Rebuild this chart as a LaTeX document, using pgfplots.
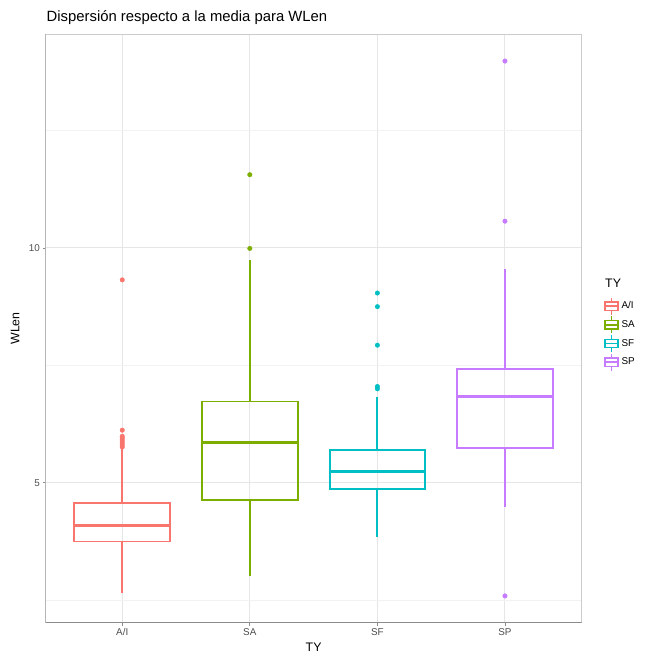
\documentclass[border=0pt]{standalone}
\usepackage{pgfplots}
\pgfplotsset{compat=1.18}
\usepgfplotslibrary{statistics}
\usepackage{fontspec}
\setmainfont{Liberation Sans}
\definecolor{cAI}{HTML}{F8766D}
\definecolor{cSA}{HTML}{7CAE00}
\definecolor{cSF}{HTML}{00BFC4}
\definecolor{cSP}{HTML}{C77CFF}
\definecolor{gmaj}{HTML}{E6E6E6}
\definecolor{gmin}{HTML}{F2F2F2}
\definecolor{tickc}{HTML}{4D4D4D}
\newcommand\ggkey[1]{%
  \draw[color=#1, line width=1.5bp] (0bp,-8.5bp) -- (0bp,-4.2bp) (0bp,4.2bp) -- (0bp,8.5bp);
  \draw[color=#1, line width=1.5bp] (-6.5bp,-4.2bp) rectangle (6.5bp,4.2bp);
  \draw[color=#1, line width=1.5bp] (-6.5bp,0bp) -- (6.5bp,0bp);
  \path[draw=none, fill=none] (-6.5bp,-9.35bp) rectangle (6.5bp,9.35bp);}
\pgfplotsset{
  ggbox/.style={
    color=#1, line width=1.9bp, solid, forget plot,
    mark=*, mark size=2.3bp,
    mark options={color=#1, line width=0.3bp},
    boxplot/whisker extend=0,
    boxplot/box extend=0.75,
    boxplot/every box/.style={color=#1, line width=1.9bp, fill=none},
    boxplot/every whisker/.style={color=#1, line width=1.9bp},
    boxplot/every median/.style={color=#1, line width=3bp},
  },
}
\begin{document}
\begin{tikzpicture}[x=1bp,y=1bp]
\path[use as bounding box] (0,0) rectangle (651,655);
\begin{axis}[
  at={(45.7bp,32.3bp)}, anchor=south west,
  scale only axis, width=535.8bp, height=588.4bp,
  boxplot/draw direction=y,
  xmin=0.4, xmax=4.6, ymin=2.02, ymax=14.55,
  xtick={1,2,3,4}, xticklabels={A/I,SA,SF,SP},
  ytick={5,10}, minor ytick={2.5,7.5,12.5},
  xmajorgrids, ymajorgrids, yminorgrids,
  major grid style={color=gmaj, line width=1.0bp},
  minor grid style={color=gmin, line width=0.6bp},
  tick align=outside, major tick length=3.1bp, minor tick length=0pt,
  tick style={color=black!45, line width=0.9bp},
  xtick pos=bottom, ytick pos=left,
  axis line style={color=black!20, line width=0.9bp},
  /pgf/number format/assume math mode=true,
  ticklabel style={font=\fontsize{9.9}{11}\selectfont, color=tickc, inner sep=2.5bp},
  xlabel={TY}, ylabel={WLen},
  every axis x label/.style={at={(axis description cs:0.5,-0.0413)}, anchor=center,
    font=\fontsize{12.4}{14}\selectfont},
  every axis y label/.style={at={(axis description cs:-0.057,0.5)}, rotate=90, anchor=center,
    font=\fontsize{12.4}{14}\selectfont},
  legend style={at={(1.042,0.554)}, anchor=north west, draw=none, fill=none,
    inner sep=0pt, outer sep=0pt, row sep=0pt, column sep=3bp,
    font=\fontsize{9.9}{11}\selectfont, nodes={inner sep=0pt}},
  legend cell align=left,
]
\addplot[ggbox=cAI, boxplot prepared={draw position=1, lower whisker=2.65, lower quartile=3.75,
  median=4.10, upper quartile=4.57, upper whisker=5.72}]
  table[row sep=\\, y index=0] {v\\ 5.76\\ 5.80\\ 5.84\\ 5.88\\ 5.92\\ 5.96\\ 5.99\\ 6.12\\ 9.32\\};
\addplot[ggbox=cSA, boxplot prepared={draw position=2, lower whisker=3.01, lower quartile=4.64,
  median=5.86, upper quartile=6.73, upper whisker=9.75}]
  table[row sep=\\, y index=0] {v\\ 9.99\\ 11.56\\};
\addplot[ggbox=cSF, boxplot prepared={draw position=3, lower whisker=3.85, lower quartile=4.86,
  median=5.24, upper quartile=5.69, upper whisker=6.82}]
  table[row sep=\\, y index=0] {v\\ 7.00\\ 7.05\\ 7.93\\ 8.75\\ 9.04\\};
\addplot[ggbox=cSP, boxplot prepared={draw position=4, lower whisker=4.48, lower quartile=5.74,
  median=6.83, upper quartile=7.43, upper whisker=9.56}]
  table[row sep=\\, y index=0] {v\\ 2.59\\ 10.57\\ 13.98\\};
\addlegendimage{legend image code/.code={\ggkey{cAI}}}\addlegendentry{A/I}
\addlegendimage{legend image code/.code={\ggkey{cSA}}}\addlegendentry{SA}
\addlegendimage{legend image code/.code={\ggkey{cSF}}}\addlegendentry{SF}
\addlegendimage{legend image code/.code={\ggkey{cSP}}}\addlegendentry{SP}
\draw[color=black!45, line width=0.9bp] (rel axis cs:0,1) -- (rel axis cs:0,0) -- (rel axis cs:1,0);
\end{axis}
\node[anchor=base west, inner sep=0pt, font=\fontsize{14.9}{17}\selectfont] at (46.5,633) {Dispersión respecto a la media para WLen};
\node[anchor=west, inner sep=0pt, font=\fontsize{12.4}{14}\selectfont] at (605,372) {TY};
\end{tikzpicture}
\end{document}
